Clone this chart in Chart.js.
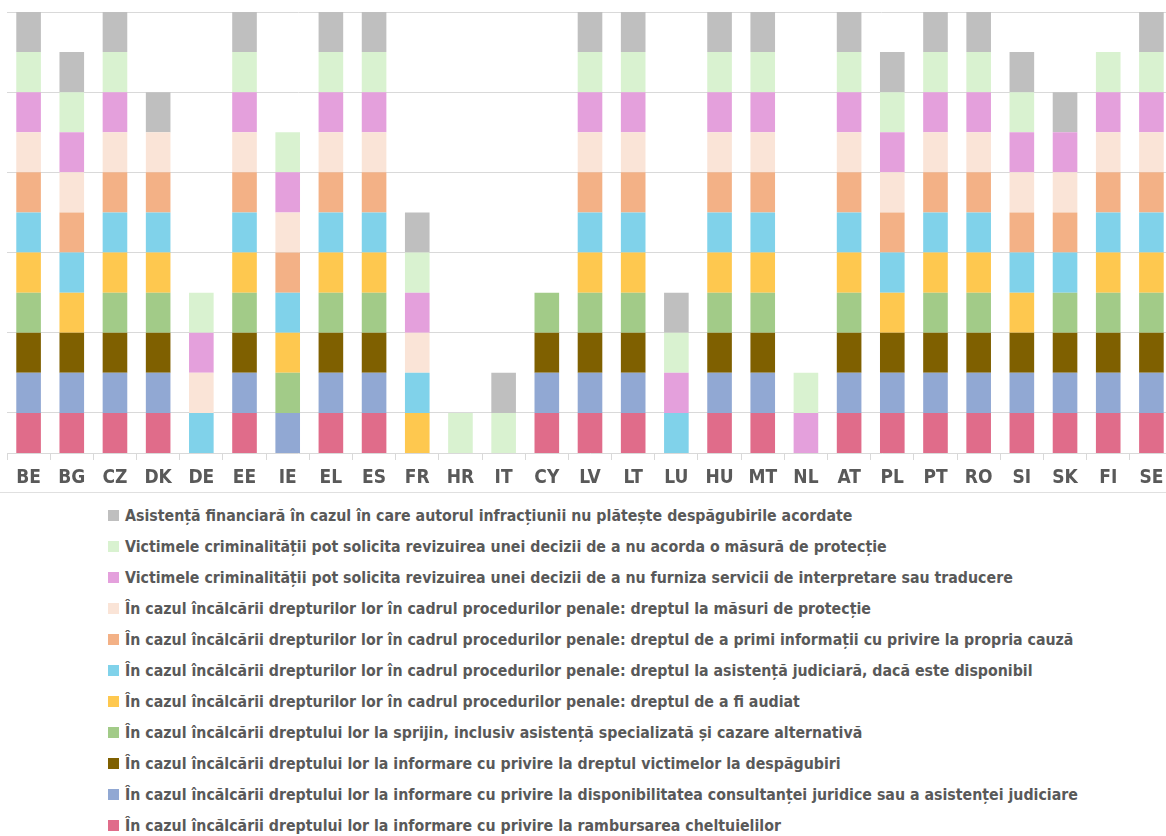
<!DOCTYPE html>
<html>
<head>
<meta charset="utf-8">
<script src="https://cdn.jsdelivr.net/npm/chart.js@4.4.1/dist/chart.umd.min.js"></script>
<style>
  html, body { margin: 0; padding: 0; background: #fff; overflow: hidden; }
  #wrap { position: relative; width: 1175px; height: 492px; border-bottom: 1px solid #e0e0e0; }
  #legend { position: absolute; left: 108px; top: 500px; color: #595959; font-weight: 700; }
  .item { display: flex; align-items: center; height: 31px; white-space: nowrap; }
  .box { width: 11px; height: 11px; margin-right: 6px; flex: none; }
</style>
</head>
<body>
<div id="wrap"><canvas id="chart" width="1175" height="492"></canvas></div>
<div id="legend"></div>
<script>
// countries on the x axis
const countries = ["BE","BG","CZ","DK","DE","EE","IE","EL","ES","FR","HR","IT","CY","LV","LT","LU","HU","MT","NL","AT","PL","PT","RO","SI","SK","FI","SE"];

// one row per right, stacked bottom -> top (1 = yes, 0 = no)
const reimbursement   = [1,1,1,1,0,1,0,1,1,0,0,0,1,1,1,0,1,1,0,1,1,1,1,1,1,1,1];
const legalAdviceInfo = [1,1,1,1,0,1,1,1,1,0,0,0,1,1,1,0,1,1,0,1,1,1,1,1,1,1,1];
const compensationInfo= [1,1,1,1,0,1,0,1,1,0,0,0,1,1,1,0,1,1,0,1,1,1,1,1,1,1,1];
const support         = [1,0,1,1,0,1,1,1,1,0,0,0,1,1,1,0,1,1,0,1,0,1,1,0,1,1,1];
const beHeard         = [1,1,1,1,0,1,1,1,1,1,0,0,0,1,1,0,1,1,0,1,1,1,1,1,0,1,1];
const legalAid        = [1,1,1,1,1,1,1,1,1,1,0,0,0,1,1,1,1,1,0,1,1,1,1,1,1,1,1];
const caseInfo        = [1,1,1,1,0,1,1,1,1,0,0,0,0,1,1,0,1,1,0,1,1,1,1,1,1,1,1];
const protection      = [1,1,1,1,1,1,1,1,1,1,0,0,0,1,1,0,1,1,0,1,1,1,1,1,1,1,1];
const interpretation  = [1,1,1,0,1,1,1,1,1,1,0,0,0,1,1,1,1,1,1,1,1,1,1,1,1,1,1];
const protectionReview= [1,1,1,0,1,1,1,1,1,1,1,1,0,1,1,1,1,1,1,1,1,1,1,1,0,1,1];
const financialAid    = [1,1,1,1,0,1,0,1,1,1,0,1,0,1,1,1,1,1,0,1,1,1,1,1,1,0,1];

const seriesLabels = [
  "În cazul încălcării dreptului lor la informare cu privire la rambursarea cheltuielilor",
  "În cazul încălcării dreptului lor la informare cu privire la disponibilitatea consultanței juridice sau a asistenței judiciare",
  "În cazul încălcării dreptului lor la informare cu privire la dreptul victimelor la despăgubiri",
  "În cazul încălcării dreptului lor la sprijin, inclusiv asistență specializată și cazare alternativă",
  "În cazul încălcării drepturilor lor în cadrul procedurilor penale: dreptul de a fi audiat",
  "În cazul încălcării drepturilor lor în cadrul procedurilor penale: dreptul la asistență judiciară, dacă este disponibil",
  "În cazul încălcării drepturilor lor în cadrul procedurilor penale: dreptul de a primi informații cu privire la propria cauză",
  "În cazul încălcării drepturilor lor în cadrul procedurilor penale: dreptul la măsuri de protecție",
  "Victimele criminalității pot solicita revizuirea unei decizii de a nu furniza servicii de interpretare sau traducere",
  "Victimele criminalității pot solicita revizuirea unei decizii de a nu acorda o măsură de protecție",
  "Asistență financiară în cazul în care autorul infracțiunii nu plătește despăgubirile acordate"
];
const seriesValues = [reimbursement, legalAdviceInfo, compensationInfo, support, beHeard, legalAid,
                      caseInfo, protection, interpretation, protectionReview, financialAid];
const seriesColors = ["#E06C8A","#91A8D3","#7F6000","#A2CB88","#FEC84F","#80D2EA",
                      "#F3B186","#FAE4D7","#E4A0DC","#D9F2D0","#BFBFBF"];

// horizontal gridlines sit on odd values
const gridValues = [1, 3, 5, 7, 9, 11];

const labelFont = '"Liberation Sans Narrow", "DejaVu Sans Condensed", "Roboto", sans-serif';

const datasets = seriesLabels.map((label, i) => ({
  label: label,
  data: seriesValues[i],
  backgroundColor: seriesColors[i],
  borderWidth: 0,
  barPercentage: 0.57,
  categoryPercentage: 1.0
}));

const chart = new Chart(document.getElementById("chart"), {
  type: "bar",
  data: { labels: countries, datasets: datasets },
  options: {
    responsive: false,
    animation: false,
    layout: { padding: { left: 7, right: 2, top: 12, bottom: 0 } },
    plugins: { legend: { display: false }, tooltip: { enabled: false } },
    scales: {
      x: {
        stacked: true,
        offset: true,
        grid: { display: true, drawOnChartArea: false, drawTicks: true, tickLength: 7, color: "#d9d9d9", offset: true },
        border: { display: true, color: "#d9d9d9" },
        ticks: {
          autoSkip: false, maxRotation: 0, padding: 7, color: "#595959",
          font: { family: labelFont, size: 19, weight: "bold" }
        },
        afterFit: s => { s.height = 39; }
      },
      y: {
        stacked: true,
        min: 0,
        max: 11,
        grid: { color: "#d9d9d9", drawTicks: false },
        border: { display: false },
        ticks: { display: false },
        afterBuildTicks: s => { s.ticks = gridValues.map(v => ({ value: v })); },
        afterFit: s => { s.width = 0; }
      }
    }
  }
});

// HTML legend, top row = last dataset
const legendEl = document.getElementById("legend");
const measure = document.createElement("canvas").getContext("2d");
measure.font = "bold 100px " + labelFont;
const fontSize = Math.max(13, Math.min(19, 100 * 728 / measure.measureText(seriesLabels[10]).width));
legendEl.style.fontFamily = labelFont;
legendEl.style.fontSize = fontSize.toFixed(2) + "px";
chart.data.datasets.slice().reverse().forEach(ds => {
  const row = document.createElement("div");
  row.className = "item";
  const box = document.createElement("span");
  box.className = "box";
  box.style.background = ds.backgroundColor;
  const txt = document.createElement("span");
  txt.textContent = ds.label;
  row.appendChild(box);
  row.appendChild(txt);
  legendEl.appendChild(row);
});
</script>
</body>
</html>
